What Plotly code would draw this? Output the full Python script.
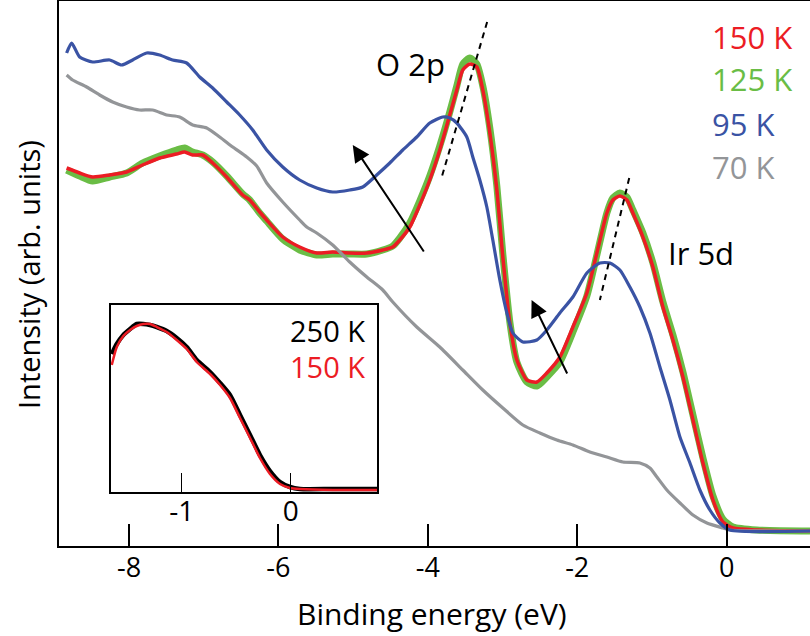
import plotly.graph_objects as go

# ---------------- data (binding energy in eV, intensity in arb. units) ----------------
e_150 = [-8.835, -8.661, -8.487, -8.259, -8.032, -7.818, -7.590, -7.363, -7.255, -7.148, -7.014,
         -6.880, -6.692, -6.478, -6.384, -6.250, -6.157, -5.942, -5.715, -5.487, -5.273, -5.045,
         -4.817, -4.603, -4.469, -4.375, -4.241, -4.108, -3.974, -3.840, -3.706, -3.612, -3.532,
         -3.438, -3.344, -3.264, -3.170, -3.076, -2.996, -2.902, -2.808, -2.674, -2.540, -2.407,
         -2.232, -2.058, -1.871, -1.737, -1.603, -1.523, -1.429, -1.335, -1.255, -1.121, -0.987,
         -0.853, -0.719, -0.585, -0.451, -0.317, -0.183, -0.050, 0.084, 0.405, 1.116]
i_150 = [378, 373, 369, 371, 374, 381, 388, 392, 394, 391, 391,
         383, 369, 351, 346, 334, 326, 309, 299, 293, 294, 293,
         293, 296, 299, 306, 319, 341, 366, 396, 431, 456, 476,
         482, 479, 456, 413, 356, 289, 223, 186, 166, 164, 173,
         189, 219, 253, 293, 333, 346, 350, 346, 333, 309, 279,
         239, 206, 169, 126, 83, 46, 24, 18, 16, 15]

e_125 = e_150
i_125 = [376, 370, 365, 369, 373, 383, 390, 396, 398, 394, 391,
         384, 370, 352, 346, 333, 325, 307, 296, 291, 292, 292,
         292, 296, 300, 308, 323, 345, 370, 400, 434, 460, 482,
         488, 482, 460, 418, 360, 292, 224, 184, 164, 160, 169,
         184, 214, 250, 291, 333, 348, 353, 349, 336, 313, 283,
         244, 211, 174, 131, 88, 50, 27, 19, 16, 15]

e_95 = [-8.835, -8.768, -8.661, -8.487, -8.259, -8.099, -7.951, -7.764, -7.590, -7.416, -7.228,
        -7.054, -6.880, -6.692, -6.518, -6.344, -6.157, -5.942, -5.715, -5.487, -5.273, -5.045,
        -4.871, -4.684, -4.509, -4.335, -4.148, -3.974, -3.800, -3.706, -3.612, -3.478, -3.398,
        -3.304, -3.210, -3.130, -3.036, -2.942, -2.862, -2.728, -2.540, -2.407, -2.232, -2.058,
        -1.871, -1.697, -1.563, -1.429, -1.295, -1.161, -1.027, -0.893, -0.759, -0.625, -0.491,
        -0.358, -0.224, -0.090, 0.044, 1.116]
i_95 = [493, 503, 489, 484, 486, 481, 486, 493, 491, 486, 483,
        469, 458, 444, 431, 416, 396, 379, 366, 358, 354, 356,
        359, 371, 383, 396, 409, 423, 429, 428, 423, 409, 389,
        366, 339, 306, 266, 233, 213, 204, 206, 216, 233, 249,
        273, 283, 283, 276, 259, 239, 213, 179, 146, 109, 83,
        56, 36, 23, 16, 15]

e_70 = [-8.835, -8.755, -8.567, -8.393, -8.219, -8.032, -7.858, -7.684, -7.496, -7.322, -7.148,
        -6.960, -6.786, -6.611, -6.424, -6.290, -6.157, -5.942, -5.715, -5.621, -5.487, -5.273,
        -5.045, -4.817, -4.603, -4.469, -4.148, -3.840, -3.532, -3.264, -2.996, -2.728, -2.500,
        -2.273, -2.058, -1.831, -1.603, -1.389, -1.161, -1.027, -0.933, -0.800, -0.625, -0.451,
        -0.264, -0.050, 0.044, 1.116]
i_70 = [471, 466, 459, 451, 444, 439, 436, 436, 431, 429, 421,
        418, 409, 399, 389, 380, 363, 344, 326, 319, 313, 301,
        284, 269, 256, 244, 219, 199, 176, 156, 138, 121, 113,
        106, 101, 94, 89, 84, 83, 78, 69, 56, 43, 31,
        23, 18, 16, 15]

# inset (near the Fermi level)
e_in = [-1.642, -1.596, -1.536, -1.474, -1.413, -1.352, -1.291, -1.229, -1.138, -1.046, -0.954,
        -0.862, -0.740, -0.648, -0.557, -0.465, -0.373, -0.282, -0.190, -0.098, -0.006, 0.085,
        0.388, 0.792]
i_in_150 = [127, 145, 156, 162, 166, 168, 168, 165, 160, 152, 143,
            130, 118, 107, 94, 74, 54, 34, 18, 8, 4, 3,
            2, 2]
i_in_250 = [138, 148, 157, 163, 168, 168, 167, 165, 161, 154, 145,
            132, 120, 109, 97, 77, 57, 37, 21, 10, 5, 3,
            3, 3]

main_labels = ["150 K", "125 K", "95 K", "70 K"]
inset_labels = ["250 K", "150 K"]
main_ticks = [-8, -6, -4, -2, 0]
main_ticktext = ["-8", "-6", "-4", "-2", "0"]
inset_ticks = [-1, 0]
inset_ticktext = ["-1", "0"]
x_title = "Binding energy (eV)"
y_title = "Intensity (arb. units)"

# ---------------- styling ----------------
RED = "#EC1C24"
GREEN = "#6ABD45"
BLUE = "#3A53A4"
GRAY = "#939598"
FONT = "Open Sans"
SMOOTH = 0.6

W, H = 810, 636
L, R, T, B = 59, 0, 1, 90
PW, PH = W - L - R, H - T - B


def px(x):
    return (x - L) / PW


def py(y):
    return (H - B - y) / PH


def ln(color, width):
    return dict(color=color, width=width, shape="spline", smoothing=SMOOTH)


fig = go.Figure()

fig.add_trace(go.Scatter(x=e_125, y=i_125, mode="lines", line=ln(GREEN, 7),
                         name=main_labels[1], showlegend=False))
fig.add_trace(go.Scatter(x=e_150, y=i_150, mode="lines", line=ln(RED, 3.5),
                         name=main_labels[0], showlegend=False))
fig.add_trace(go.Scatter(x=e_70, y=i_70, mode="lines", line=ln(GRAY, 3.2),
                         name=main_labels[3], showlegend=False))
fig.add_trace(go.Scatter(x=e_95, y=i_95, mode="lines", line=ln(BLUE, 3.2),
                         name=main_labels[2], showlegend=False))

fig.add_trace(go.Scatter(x=e_in, y=i_in_250, mode="lines", line=ln("black", 4.5),
                         xaxis="x2", yaxis="y2", name=inset_labels[0], showlegend=False))
fig.add_trace(go.Scatter(x=e_in, y=i_in_150, mode="lines", line=ln(RED, 2.5),
                         xaxis="x2", yaxis="y2", name=inset_labels[1], showlegend=False))

x_dom = [px(111), px(377)]
y_dom = [py(492), py(305)]

fig.update_layout(
    width=W, height=H,
    margin=dict(l=L, r=R, t=T, b=B, autoexpand=False),
    paper_bgcolor="white", plot_bgcolor="white",
    font=dict(family=FONT, color="black"),
    xaxis=dict(range=[-8.937, 1.116], showgrid=False, zeroline=False, automargin=False,
               showline=True, linecolor="black", linewidth=2, mirror=True,
               ticks="inside", ticklen=22, tickwidth=2, tickcolor="black",
               tickvals=main_ticks, ticktext=main_ticktext, ticklabelstandoff=-3,
               tickfont=dict(size=27, family=FONT, color="black")),
    yaxis=dict(range=[0, 545], showgrid=False, zeroline=False, automargin=False,
               showline=True, linecolor="black", linewidth=2,
               showticklabels=False, ticks=""),
    xaxis2=dict(domain=x_dom, anchor="y2", range=[-1.649, 0.792], showgrid=False, zeroline=False,
                automargin=False,
                showline=True, linecolor="black", linewidth=1.8, mirror=True,
                ticks="inside", ticklen=19, tickwidth=1.2, tickcolor="black",
                tickvals=inset_ticks, ticktext=inset_ticktext, ticklabelstandoff=-7,
                tickfont=dict(size=28, family=FONT, color="black")),
    yaxis2=dict(domain=y_dom, anchor="x2", range=[0, 187], showgrid=False, zeroline=False,
                automargin=False,
                showline=True, linecolor="black", linewidth=1.8, mirror=True,
                showticklabels=False, ticks=""),
)

# axis titles
fig.add_annotation(x=px(432), y=py(613), xref="paper", yref="paper", text=x_title,
                   showarrow=False, xanchor="center", yanchor="middle",
                   font=dict(size=30, color="black", family=FONT))
fig.add_annotation(x=px(29), y=py(275), xref="paper", yref="paper", text=y_title,
                   showarrow=False, xanchor="center", yanchor="middle", textangle=-90,
                   font=dict(size=29, color="black", family=FONT))

# temperature labels (main)
label_colors = [RED, GREEN, BLUE, GRAY]
label_y = [37, 79, 124, 167]
for txt, col, yy in zip(main_labels, label_colors, label_y):
    fig.add_annotation(x=px(710), y=py(yy), xref="paper", yref="paper", text=txt,
                       showarrow=False, xanchor="left", yanchor="middle",
                       font=dict(size=31, color=col, family=FONT))

# inset labels
for txt, col, yy in zip(inset_labels, ["black", RED], [331, 367]):
    fig.add_annotation(x=px(367), y=py(yy), xref="paper", yref="paper", text=txt,
                       showarrow=False, xanchor="right", yanchor="middle",
                       font=dict(size=29, color=col, family=FONT))

# peak labels
fig.add_annotation(x=px(374), y=py(64), xref="paper", yref="paper", text="O 2p",
                   showarrow=False, xanchor="left", yanchor="middle",
                   font=dict(size=31, color="black", family=FONT))
fig.add_annotation(x=px(666), y=py(253), xref="paper", yref="paper", text="Ir 5d",
                   showarrow=False, xanchor="left", yanchor="middle",
                   font=dict(size=31, color="black", family=FONT))

# arrows (data coordinates)
for (hx, hy, tx, ty) in [(-5.005, 401, -4.040, 293), (-2.611, 246, -2.125, 171)]:
    fig.add_annotation(x=hx, y=hy, ax=tx, ay=ty, xref="x", yref="y", axref="x", ayref="y",
                       text="", showarrow=True, arrowhead=2, arrowsize=1.7, arrowwidth=2,
                       arrowcolor="black")

# dashed peak-position guides
for (x0, y0, x1, y1) in [(-3.206, 524, -3.817, 368), (-1.304, 368, -1.697, 246)]:
    fig.add_shape(type="line", x0=x0, y0=y0, x1=x1, y1=y1, xref="x", yref="y",
                  line=dict(color="black", width=2, dash="6px,5px"))

fig.write_html("out.html", config={"displayModeBar": False},
               post_script="document.body.style.margin='0';document.body.style.padding='0';")
